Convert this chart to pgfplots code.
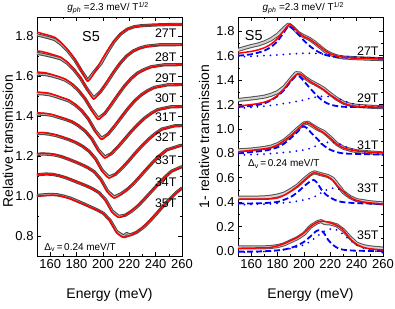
\documentclass[border=0pt]{standalone}
\usepackage{fontspec}
\setmainfont{Liberation Sans}
\usepackage{pgfplots}
\pgfplotsset{compat=1.18}
\tikzset{lab/.style={anchor=east, font=\fontsize{12.5}{14}\selectfont},
 ttl/.style={font=\fontsize{10}{12}\selectfont, anchor=center}}
\begin{document}
\begin{tikzpicture}
\pgfplotsset{
 panel/.style={scale only axis, width=145bp, height=239bp, xmin=150, xmax=260,
  xtick={160,180,200,220,240,260}, minor x tick num=1, minor y tick num=1,
  tick align=inside, xtick pos=both, ytick pos=both,
  major tick length=4bp, minor tick length=2.2bp,
  tick style={black, line width=0.6bp}, axis line style={black, line width=0.8bp},
  tick label style={font=\fontsize{13}{15}\selectfont},
  label style={font=\fontsize{14}{16}\selectfont},
  /pgf/number format/assume math mode=true,
  y tick label style={/pgf/number format/fixed, /pgf/number format/fixed zerofill, /pgf/number format/precision=1},
  x tick label style={/pgf/number format/1000 sep={}},
  xlabel style={at={(axis description cs:0.5,-0.163)}, anchor=center},
  xlabel={Energy (meV)},
  clip mode=individual,
 },
 datL/.style={black!72, line width=3.2bp, line join=round, line cap=round, postaction={draw=black!30, line width=1.1bp}},
 datR/.style={black!68, line width=4bp, line join=round, line cap=round, postaction={draw=black!18, line width=2bp}},
 fit/.style={red, line width=1.5bp, smooth, tension=0.4},
 dashB/.style={blue, line width=1.8bp, dash pattern=on 6bp off 3bp, smooth, tension=0.4},
 dotB/.style={blue, line width=2bp, line cap=round, dash pattern=on 0bp off 6.5bp, smooth, tension=0.4},
}
\path[use as bounding box] (-37bp,-53bp) rectangle (358bp,256bp);
% ---------------- left panel
\begin{axis}[panel, at={(0bp,0bp)}, anchor=south west, ymin=0.7, ymax=1.895,
  ytick={0.8,1,1.2,1.4,1.6,1.8}, ylabel={Relative transmission},
  ylabel style={at={(axis description cs:-0.2,0.48)}, anchor=center}]
% data
\addplot[datL] coordinates {(150,1.806)(153.5,1.800)(158.5,1.792)(163.5,1.782)(168.5,1.758)(173.5,1.724)(178.5,1.682)(183.5,1.628)(188.5,1.578)(193.5,1.622)(198.5,1.662)(203.5,1.720)(208.5,1.772)(213.5,1.810)(218.5,1.834)(223.5,1.846)(228.5,1.851)(238.5,1.855)(248.5,1.857)(260,1.858)};
\addplot[datL] coordinates {(150,1.712)(153,1.710)(158,1.703)(163,1.695)(168,1.686)(173,1.664)(178,1.631)(183,1.589)(188,1.535)(193,1.490)(198,1.520)(203,1.566)(208,1.617)(213,1.663)(218,1.700)(223,1.725)(228,1.740)(233,1.749)(243,1.756)(260,1.757)};
\addplot[datL] coordinates {(150,1.610)(156.5,1.607)(161.5,1.600)(166.5,1.591)(171.5,1.579)(176.5,1.558)(181.5,1.527)(186.5,1.486)(191.5,1.432)(196.5,1.388)(201.5,1.413)(206.5,1.458)(211.5,1.506)(216.5,1.551)(221.5,1.588)(226.5,1.616)(231.5,1.633)(236.5,1.646)(246.5,1.656)(260,1.657)};
\addplot[datL] coordinates {(150,1.512)(154,1.511)(159,1.507)(164,1.498)(169,1.487)(174,1.476)(179,1.455)(184,1.426)(189,1.385)(194,1.328)(199,1.288)(204,1.310)(209,1.350)(214,1.394)(219,1.437)(224,1.475)(229,1.505)(234,1.527)(239,1.543)(249,1.556)(260,1.557)};
\addplot[datL] coordinates {(150,1.410)(156.5,1.408)(161.5,1.403)(166.5,1.393)(171.5,1.383)(176.5,1.371)(181.5,1.351)(186.5,1.325)(191.5,1.287)(196.5,1.231)(201.5,1.195)(206.5,1.212)(211.5,1.246)(216.5,1.284)(221.5,1.323)(226.5,1.358)(231.5,1.389)(236.5,1.413)(241.5,1.432)(251.5,1.446)(260,1.447)};
\addplot[datL] coordinates {(150,1.312)(154.5,1.313)(159.5,1.309)(164.5,1.302)(169.5,1.292)(174.5,1.281)(179.5,1.267)(184.5,1.249)(189.5,1.224)(194.5,1.186)(199.5,1.128)(204.5,1.095)(209.5,1.108)(214.5,1.139)(219.5,1.175)(224.5,1.214)(229.5,1.250)(234.5,1.283)(239.5,1.311)(244.5,1.334)(254.5,1.351)(260,1.352)};
\addplot[datL] coordinates {(150,1.208)(153.5,1.210)(158.5,1.209)(163.5,1.205)(168.5,1.197)(173.5,1.185)(178.5,1.172)(183.5,1.158)(188.5,1.142)(193.5,1.121)(198.5,1.083)(203.5,1.025)(208.5,0.995)(213.5,1.010)(218.5,1.033)(223.5,1.063)(228.5,1.100)(233.5,1.137)(238.5,1.173)(243.5,1.204)(248.5,1.231)(258.5,1.252)(260,1.252)};
\addplot[datL] coordinates {(150,1.106)(157,1.110)(162,1.108)(167,1.101)(172,1.091)(177,1.078)(182,1.065)(187,1.052)(192,1.037)(197,1.017)(202,0.982)(207,0.925)(212,0.898)(217,0.904)(222,0.925)(227,0.953)(232,0.988)(237,1.024)(242,1.060)(247,1.094)(252,1.124)(260,1.147)};
\addplot[datL] coordinates {(150,1.003)(155.5,1.006)(160.5,1.008)(165.5,1.006)(170.5,0.999)(175.5,0.989)(180.5,0.975)(185.5,0.961)(190.5,0.946)(195.5,0.931)(200.5,0.913)(205.5,0.878)(210.5,0.822)(215.5,0.800)(218,0.812)(220.5,0.805)(225.5,0.818)(230.5,0.842)(235.5,0.874)(240.5,0.910)(245.5,0.948)(250.5,0.983)(255.5,1.016)(260,1.040)};
% fits
\addplot[fit] coordinates {(150,1.820)(153.5,1.813)(158.5,1.804)(163.5,1.793)(168.5,1.766)(173.5,1.729)(178.5,1.685)(183.5,1.629)(188.5,1.575)(193.5,1.617)(198.5,1.673)(203.5,1.727)(208.5,1.775)(213.5,1.811)(218.5,1.834)(223.5,1.845)(228.5,1.850)(238.5,1.855)(248.5,1.856)(260,1.856)};
\addplot[fit] coordinates {(150,1.725)(153,1.723)(158,1.715)(163,1.705)(168,1.694)(173,1.669)(178,1.634)(183,1.591)(188,1.534)(193,1.485)(198,1.522)(203,1.571)(208,1.620)(213,1.664)(218,1.700)(223,1.724)(228,1.738)(233,1.747)(243,1.754)(260,1.755)};
\addplot[fit] coordinates {(150,1.620)(156.5,1.616)(161.5,1.607)(166.5,1.597)(171.5,1.584)(176.5,1.561)(181.5,1.529)(186.5,1.486)(191.5,1.429)(196.5,1.383)(201.5,1.416)(206.5,1.462)(211.5,1.508)(216.5,1.551)(221.5,1.587)(226.5,1.614)(231.5,1.631)(236.5,1.644)(246.5,1.654)(260,1.655)};
\addplot[fit] coordinates {(150,1.520)(154,1.518)(159,1.514)(164,1.504)(169,1.492)(174,1.480)(179,1.457)(184,1.427)(189,1.384)(194,1.325)(199,1.283)(204,1.312)(209,1.354)(214,1.396)(219,1.438)(224,1.475)(229,1.504)(234,1.525)(239,1.541)(249,1.554)(260,1.555)};
\addplot[fit] coordinates {(150,1.416)(156.5,1.413)(161.5,1.407)(166.5,1.396)(171.5,1.385)(176.5,1.372)(181.5,1.352)(186.5,1.325)(191.5,1.285)(196.5,1.227)(201.5,1.190)(206.5,1.214)(211.5,1.249)(216.5,1.286)(221.5,1.324)(226.5,1.358)(231.5,1.388)(236.5,1.411)(241.5,1.430)(251.5,1.444)(260,1.445)};
\addplot[fit] coordinates {(150,1.315)(154.5,1.317)(159.5,1.312)(164.5,1.305)(169.5,1.294)(174.5,1.282)(179.5,1.268)(184.5,1.249)(189.5,1.223)(194.5,1.183)(199.5,1.124)(204.5,1.090)(209.5,1.110)(214.5,1.142)(219.5,1.177)(224.5,1.215)(229.5,1.250)(234.5,1.282)(239.5,1.309)(244.5,1.332)(254.5,1.350)(260,1.350)};
\addplot[fit] coordinates {(150,1.210)(153.5,1.213)(158.5,1.212)(163.5,1.207)(168.5,1.198)(173.5,1.186)(178.5,1.173)(183.5,1.159)(188.5,1.142)(193.5,1.119)(198.5,1.079)(203.5,1.020)(208.5,0.990)(213.5,1.007)(218.5,1.034)(223.5,1.066)(228.5,1.102)(233.5,1.138)(238.5,1.173)(243.5,1.203)(248.5,1.229)(258.5,1.250)(260,1.250)};
\addplot[fit] coordinates {(150,1.105)(157,1.109)(162,1.108)(167,1.101)(172,1.092)(177,1.079)(182,1.066)(187,1.052)(192,1.036)(197,1.015)(202,0.977)(207,0.919)(212,0.893)(217,0.905)(222,0.928)(227,0.956)(232,0.990)(237,1.025)(242,1.061)(247,1.093)(252,1.122)(260,1.145)};
\addplot[fit] coordinates {(150,1.000)(155.5,1.002)(160.5,1.004)(165.5,1.003)(170.5,0.996)(175.5,0.986)(180.5,0.972)(185.5,0.959)(190.5,0.944)(195.5,0.930)(200.5,0.911)(205.5,0.874)(210.5,0.816)(215.5,0.793)(220.5,0.802)(225.5,0.820)(230.5,0.845)(235.5,0.877)(240.5,0.912)(245.5,0.949)(250.5,0.983)(255.5,1.015)(260,1.040)};
\node[font=\fontsize{14.5}{16}\selectfont] at (axis cs:191,1.795) {S5};
\node[lab] at (axis cs:258.5,1.815) {27T};
\node[lab] at (axis cs:258.5,1.695) {28T};
\node[lab] at (axis cs:258.5,1.590) {29T};
\node[lab] at (axis cs:258.5,1.490) {30T};
\node[lab] at (axis cs:258.5,1.395) {31T};
\node[lab] at (axis cs:258.5,1.295) {32T};
\node[lab] at (axis cs:258.5,1.180) {33T};
\node[lab] at (axis cs:258.5,1.070) {34T};
\node[lab] at (axis cs:258.5,0.965) {35T};
\node[anchor=west, font=\fontsize{10}{12}\selectfont] at (axis cs:153,0.742) {Δ\textsubscript{v}\,=\,0.24 meV/T};
\node[ttl] at (axis description cs:0.49,1.038) {\textit{g}\textsubscript{\textit{ph}} =2.3 meV/ T\textsuperscript{1/2}};
\end{axis}
% ---------------- right panel
\begin{axis}[panel, at={(201bp,0bp)}, anchor=south west, ymin=-0.041, ymax=1.918,
  ytick={0,0.2,0.4,0.6,0.8,1,1.2,1.4,1.6,1.8}, ylabel={1- relative transmission},
  ylabel style={at={(axis description cs:-0.234,0.5)}, anchor=center}]
% data
\addplot[datR] coordinates {(150,1.648)(155,1.665)(160,1.680)(165,1.692)(170,1.710)(175,1.735)(180,1.772)(185,1.825)(188.5,1.858)(192,1.828)(196,1.785)(200,1.760)(204,1.740)(208,1.710)(212,1.675)(216,1.640)(220,1.615)(225,1.595)(230,1.586)(240,1.580)(250,1.576)(260,1.572)};
\addplot[datR] coordinates {(150,1.238)(155,1.244)(160,1.250)(165,1.257)(170,1.265)(175,1.280)(180,1.302)(185,1.342)(190,1.408)(194,1.458)(197,1.455)(200,1.428)(205,1.390)(210,1.362)(215,1.330)(220,1.287)(225,1.247)(230,1.216)(235,1.199)(240,1.190)(250,1.183)(260,1.178)};
\addplot[datR] coordinates {(150,0.825)(155,0.828)(160,0.832)(165,0.838)(170,0.845)(175,0.855)(180,0.875)(185,0.905)(190,0.950)(195,1.000)(200,1.045)(203,1.052)(206,1.030)(210,1.003)(215,0.977)(220,0.930)(225,0.877)(230,0.846)(235,0.830)(240,0.818)(250,0.808)(260,0.800)};
\addplot[datR] coordinates {(150,0.437)(155,0.437)(160,0.437)(165,0.438)(170,0.440)(175,0.445)(180,0.455)(185,0.470)(190,0.500)(195,0.535)(200,0.585)(205,0.630)(208,0.645)(212,0.632)(218,0.615)(222,0.592)(226,0.537)(230,0.482)(235,0.442)(240,0.417)(250,0.400)(260,0.390)};
\addplot[datR] coordinates {(150,0.030)(155,0.030)(160,0.030)(165,0.030)(170,0.030)(175,0.033)(180,0.040)(185,0.055)(190,0.080)(195,0.105)(200,0.140)(205,0.200)(210,0.235)(213,0.245)(216,0.228)(220,0.226)(225,0.210)(230,0.170)(235,0.110)(240,0.060)(245,0.040)(250,0.030)(260,0.020)};
% dotted components
\addplot[dotB] coordinates {(150,1.592)(160,1.596)(170,1.601)(180,1.607)(190,1.615)(200,1.621)(210,1.619)(220,1.609)(230,1.596)(240,1.588)(250,1.583)(260,1.580)};
\addplot[dotB] coordinates {(150,1.170)(160,1.177)(170,1.187)(180,1.200)(190,1.217)(200,1.238)(205,1.252)(210,1.263)(215,1.268)(220,1.265)(225,1.252)(230,1.232)(235,1.213)(240,1.200)(250,1.187)(260,1.180)};
\addplot[dotB] coordinates {(150,0.787)(160,0.790)(170,0.795)(180,0.803)(190,0.813)(200,0.828)(205,0.842)(210,0.865)(215,0.885)(220,0.893)(225,0.885)(230,0.862)(235,0.840)(240,0.822)(250,0.805)(260,0.795)};
\addplot[dotB] coordinates {(150,0.380)(160,0.382)(170,0.385)(180,0.390)(190,0.400)(200,0.418)(205,0.432)(210,0.455)(215,0.490)(220,0.512)(224,0.515)(228,0.500)(232,0.470)(236,0.435)(240,0.410)(250,0.390)(260,0.383)};
\addplot[dotB] coordinates {(150,-0.010)(160,-0.008)(170,-0.004)(180,0.005)(190,0.020)(200,0.050)(205,0.080)(210,0.120)(215,0.160)(220,0.180)(223,0.180)(227,0.160)(231,0.125)(235,0.090)(240,0.050)(245,0.025)(250,0.010)(260,-0.015)};
% dashed components
\addplot[dashB] coordinates {(150,1.600)(160,1.612)(165,1.625)(170,1.642)(175,1.672)(180,1.720)(185,1.795)(188,1.840)(191,1.830)(195,1.785)(200,1.725)(205,1.675)(210,1.638)(215,1.612)(220,1.597)(225,1.590)(230,1.586)(240,1.583)(260,1.580)};
\addplot[dashB] coordinates {(150,1.180)(160,1.190)(165,1.198)(170,1.210)(175,1.235)(180,1.270)(185,1.320)(190,1.390)(194,1.435)(197,1.428)(200,1.392)(205,1.330)(210,1.272)(215,1.226)(220,1.200)(225,1.188)(230,1.182)(240,1.180)(260,1.178)};
\addplot[dashB] coordinates {(150,0.800)(160,0.810)(170,0.822)(175,0.833)(180,0.850)(185,0.880)(190,0.925)(195,0.975)(199,1.020)(202,1.010)(205,0.975)(210,0.920)(215,0.865)(220,0.830)(225,0.810)(230,0.800)(240,0.795)(260,0.790)};
\addplot[dashB] coordinates {(150,0.390)(160,0.390)(170,0.393)(180,0.402)(185,0.420)(190,0.443)(195,0.480)(200,0.530)(205,0.572)(207.5,0.582)(210,0.560)(213.5,0.500)(217,0.460)(221,0.432)(225,0.412)(230,0.400)(240,0.392)(260,0.385)};
\addplot[dashB] coordinates {(150,-0.005)(160,-0.005)(170,-0.002)(180,0.005)(185,0.012)(190,0.025)(195,0.045)(200,0.075)(205,0.120)(209,0.160)(212,0.172)(215,0.150)(218.5,0.090)(222,0.050)(226,0.022)(230,0.010)(240,0.002)(260,0.000)};
% fits
\addplot[fit] coordinates {(150,1.620)(155,1.628)(160,1.636)(165,1.648)(170,1.666)(175,1.695)(180,1.742)(185,1.810)(189,1.858)(192,1.835)(196,1.790)(200,1.758)(204,1.738)(208,1.708)(212,1.675)(216,1.642)(220,1.617)(225,1.598)(230,1.588)(240,1.580)(250,1.576)(260,1.572)};
\addplot[fit] coordinates {(150,1.190)(155,1.194)(160,1.200)(165,1.208)(170,1.220)(175,1.240)(180,1.275)(185,1.330)(190,1.400)(195,1.451)(198,1.446)(201,1.420)(205,1.388)(210,1.357)(215,1.322)(220,1.280)(225,1.243)(230,1.212)(235,1.195)(240,1.186)(250,1.181)(260,1.178)};
\addplot[fit] coordinates {(150,0.814)(155,0.819)(160,0.825)(165,0.831)(170,0.838)(175,0.848)(180,0.870)(185,0.905)(190,0.945)(195,0.995)(200,1.045)(202,1.052)(205,1.040)(210,1.002)(215,0.970)(220,0.925)(225,0.876)(230,0.845)(235,0.830)(240,0.820)(250,0.810)(260,0.803)};
\addplot[fit] coordinates {(150,0.424)(160,0.425)(170,0.425)(175,0.427)(180,0.435)(185,0.457)(190,0.490)(195,0.530)(200,0.578)(205,0.625)(208,0.642)(212,0.630)(218,0.610)(222,0.580)(226,0.527)(230,0.485)(235,0.440)(240,0.415)(245,0.402)(250,0.395)(260,0.385)};
\addplot[fit] coordinates {(150,0.022)(160,0.024)(170,0.026)(175,0.030)(180,0.042)(185,0.060)(190,0.085)(195,0.110)(200,0.148)(205,0.200)(210,0.235)(213.5,0.245)(217,0.240)(221,0.227)(225,0.210)(229,0.180)(233,0.130)(236,0.090)(240,0.055)(245,0.030)(250,0.018)(260,0.008)};
\node[font=\fontsize{14.5}{16}\selectfont] at (axis cs:162,1.77) {S5};
\node[lab] at (axis cs:259.3,1.640) {27T};
\node[lab] at (axis cs:259.3,1.254) {29T};
\node[lab] at (axis cs:259.3,0.869) {31T};
\node[lab] at (axis cs:259.3,0.516) {33T};
\node[lab] at (axis cs:259.3,0.131) {35T};
\node[anchor=west, font=\fontsize{10}{12}\selectfont] at (axis cs:155,0.713) {Δ\textsubscript{v}\,=\,0.24 meV/T};
\node[ttl] at (axis description cs:0.45,1.038) {\textit{g}\textsubscript{\textit{ph}} =2.3 meV/ T\textsuperscript{1/2}};
\end{axis}
\end{tikzpicture}
\end{document}
